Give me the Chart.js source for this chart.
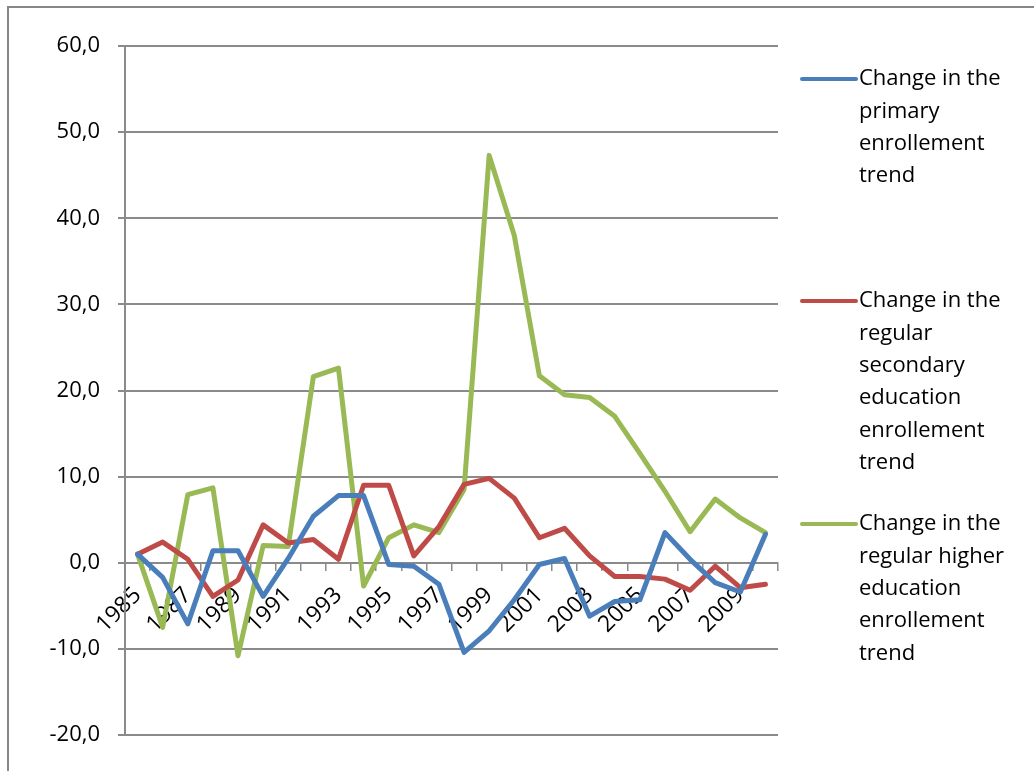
<!DOCTYPE html>
<html>
<head>
<meta charset="utf-8">
<title>Enrollment trend changes 1985–2010</title>
<script src="https://cdn.jsdelivr.net/npm/chart.js@4/dist/chart.umd.min.js"></script>
<style>
  html, body { margin: 0; padding: 0; background: #ffffff; }
  #wrap { position: relative; width: 1034px; height: 771px; }
</style>
</head>
<body>
<div id="wrap"><canvas id="chart" width="1034" height="771"></canvas></div>
<script>
// Years on the category axis
const years = ['1985','1986','1987','1988','1989','1990','1991','1992','1993','1994','1995','1996','1997',
               '1998','1999','2000','2001','2002','2003','2004','2005','2006','2007','2008','2009','2010'];

// Year-on-year change in enrollment, by level of education
const primaryChange = [1.0, -1.7, -7.1, 1.4, 1.4, -3.9, 0.5, 5.4, 7.8, 7.8, -0.2, -0.4, -2.5,
                       -10.4, -7.9, -4.3, -0.2, 0.5, -6.2, -4.5, -4.3, 3.5, 0.4, -2.3, -3.4, 3.3];
const secondaryChange = [1.0, 2.4, 0.4, -3.9, -2.0, 4.4, 2.3, 2.7, 0.4, 9.0, 9.0, 0.8, 4.2,
                         9.1, 9.8, 7.5, 2.9, 4.0, 0.8, -1.6, -1.6, -1.9, -3.2, -0.4, -2.9, -2.5];
const higherChange = [1.0, -7.5, 7.9, 8.7, -10.8, 2.0, 1.9, 21.6, 22.6, -2.7, 2.9, 4.4, 3.5,
                      8.5, 47.3, 38.0, 21.7, 19.5, 19.2, 17.0, 12.7, 8.3, 3.6, 7.4, 5.2, 3.5];

// Legend captions, already broken into lines
const primaryLabel = ['Change in the', 'primary', 'enrollement', 'trend'];
const secondaryLabel = ['Change in the', 'regular', 'secondary', 'education', 'enrollement', 'trend'];
const higherLabel = ['Change in the', 'regular higher', 'education', 'enrollement', 'trend'];

// Value axis range
const yMin = -20, yMax = 60, yStep = 10;

const FONT = '"Open Sans", "Liberation Sans", sans-serif';
const GRID = '#8a8a8a';

// Outer frame of the chart object
const framePlugin = {
  id: 'frame',
  beforeDraw(chart) {
    const ctx = chart.ctx;
    ctx.save();
    ctx.fillStyle = '#ffffff';
    ctx.fillRect(0, 0, chart.width, chart.height);
    ctx.strokeStyle = '#878787';
    ctx.lineWidth = 2;
    ctx.beginPath();
    ctx.moveTo(8, chart.height + 2);
    ctx.lineTo(8, 7);
    ctx.lineTo(chart.width + 2, 7);
    ctx.stroke();
    ctx.restore();
  }
};

// Legend on the right with wrapped captions; the key line sits on the first caption line
const sideLegend = {
  id: 'sideLegend',
  afterDraw(chart, args, opts) {
    const ctx = chart.ctx;
    ctx.save();
    ctx.font = opts.fontSize + 'px ' + FONT;
    ctx.textBaseline = 'middle';
    ctx.textAlign = 'left';
    chart.data.datasets.forEach((ds, i) => {
      const top = opts.itemTops[i];
      ctx.strokeStyle = ds.borderColor;
      ctx.lineWidth = 4;
      ctx.lineCap = 'round';
      ctx.beginPath();
      ctx.moveTo(opts.keyX, top);
      ctx.lineTo(opts.keyX + opts.keyWidth, top);
      ctx.stroke();
      ctx.fillStyle = '#000000';
      ds.label.forEach((line, k) => {
        ctx.fillText(line, opts.textX, top + k * opts.lineHeight);
      });
    });
    ctx.restore();
  }
};

new Chart(document.getElementById('chart'), {
  type: 'line',
  data: {
    labels: years,
    datasets: [
      { label: primaryLabel, data: primaryChange, borderColor: '#4a7ebb' },
      { label: secondaryLabel, data: secondaryChange, borderColor: '#be4b48' },
      { label: higherLabel, data: higherChange, borderColor: '#98b954' }
    ]
  },
  plugins: [framePlugin, sideLegend],
  options: {
    responsive: false,
    animation: false,
    devicePixelRatio: 1,
    layout: { padding: { left: 0, top: 46, right: 256, bottom: 36 } },
    elements: {
      line: { borderWidth: 5, tension: 0, borderJoinStyle: 'round', borderCapStyle: 'round' },
      point: { radius: 0, hoverRadius: 0 }
    },
    plugins: {
      legend: { display: false },
      tooltip: { enabled: false },
      sideLegend: { keyX: 802, keyWidth: 54, textX: 859, fontSize: 22, lineHeight: 32.4, itemTops: [79, 301, 524] }
    },
    scales: {
      x: {
        position: { y: 0 },
        offset: true,
        grid: { display: true, drawOnChartArea: false, drawTicks: true, tickLength: 7, offset: true, color: GRID, lineWidth: 1.5 },
        border: { display: true, color: GRID, width: 2 },
        ticks: {
          autoSkip: false, minRotation: 45, maxRotation: 45, padding: 12,
          color: '#000000', font: { family: FONT, size: 23 },
          callback(value, index) { return index % 2 === 0 ? years[index] : ''; }
        }
      },
      y: {
        min: yMin, max: yMax,
        afterFit(scale) { scale.width = 125; },
        grid: { color: GRID, lineWidth: 2, tickLength: 7 },
        border: { display: true, color: GRID, width: 2 },
        ticks: {
          stepSize: yStep, padding: 18, color: '#000000', font: { family: FONT, size: 22 },
          callback(value) { return value.toFixed(1).replace('.', ','); }
        }
      }
    }
  }
});
</script>
</body>
</html>
